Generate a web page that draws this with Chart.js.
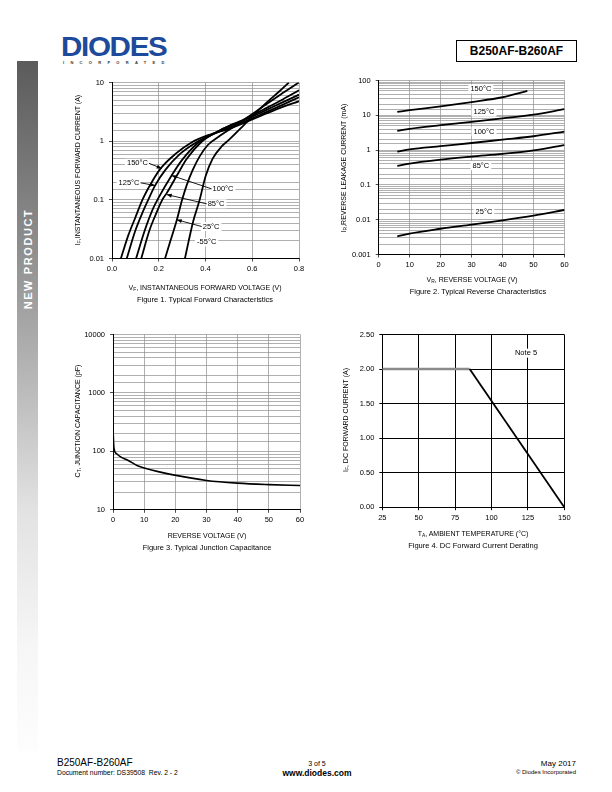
<!DOCTYPE html>
<html>
<head>
<meta charset="utf-8">
<script src="https://cdn.jsdelivr.net/npm/chart.js@4.4.1/dist/chart.umd.min.js"></script>
<style>
  body { margin: 0; width: 612px; height: 792px; position: relative; background: #fff; overflow: hidden;
         font-family: "Liberation Sans", Arial, sans-serif; color: #000; -webkit-font-smoothing: antialiased; }
  .t { position: absolute; white-space: nowrap; transform: translate(-50%, -50%); color: #000; }
  .cap { font-size: 7.5px; will-change: transform; }
  .xt { font-size: 7px; will-change: transform; }
  .yt { font-size: 7px; transform: translate(-50%, -50%) rotate(-90deg); }
  sub { font-size: 70%; vertical-align: -1.5px; line-height: 0; }
  .plot { position: absolute; }
  #side { position: absolute; left: 17px; top: 61px; width: 21px; height: 690px;
          background: linear-gradient(to bottom, #5b5b5b 0%, #8a8a8a 25%, #b5b5b5 45%, #e2e2e2 65%, #f6f6f6 85%, #fdfdfd 100%); }
  #sideTxt { position: absolute; left: 28px; top: 259px; color: #fff; font-weight: bold; font-size: 11px;
             letter-spacing: 1.6px; white-space: nowrap; transform: translate(-50%, -50%) rotate(-90deg); }
  #logo { position: absolute; left: 61px; top: 31px; font-size: 26px; font-weight: bold; letter-spacing: -1.2px;
          color: #1d4a9a; transform-origin: 0 0; transform: scale(1.14, 1.05); }
  #inc { position: absolute; left: 63px; top: 60px; font-size: 4px; font-weight: bold; letter-spacing: 6.3px; color: #333; }
  #part { position: absolute; left: 456px; top: 40px; width: 119px; height: 20px; border: 1px solid #000;
          font-weight: bold; font-size: 12px; line-height: 20px; text-align: center; }
</style>
</head>
<body>
<script>
// ---- Figure 1: forward characteristics, [VF (V), IF (A)]
const fwd150 = [[0.038,0.01],[0.07,0.025],[0.1,0.05],[0.13,0.1],[0.17,0.2],[0.21,0.35],[0.27,0.6],[0.34,0.95],[0.42,1.3],[0.5,1.62],[0.56,2.0],[0.65,2.85],[0.72,3.7],[0.8,4.8]];
const fwd125 = [[0.063,0.01],[0.1,0.03],[0.13,0.06],[0.155,0.1],[0.184,0.175],[0.23,0.33],[0.29,0.6],[0.36,0.95],[0.43,1.3],[0.5,1.7],[0.56,2.1],[0.65,3.0],[0.72,4.0],[0.8,5.6]];
const fwd100 = [[0.103,0.01],[0.14,0.03],[0.175,0.07],[0.2,0.11],[0.255,0.26],[0.3,0.48],[0.37,0.95],[0.44,1.38],[0.5,1.8],[0.56,2.22],[0.65,3.25],[0.72,4.4],[0.8,6.2]];
const fwd85  = [[0.125,0.01],[0.16,0.03],[0.19,0.06],[0.215,0.1],[0.234,0.13],[0.28,0.27],[0.32,0.5],[0.38,0.95],[0.45,1.45],[0.51,1.9],[0.56,2.3],[0.65,3.5],[0.72,4.9],[0.8,7.4]];
const fwd25  = [[0.227,0.01],[0.25,0.02],[0.277,0.045],[0.3,0.1],[0.32,0.18],[0.345,0.32],[0.375,0.55],[0.41,0.86],[0.46,1.22],[0.52,1.75],[0.58,2.55],[0.65,4.0],[0.72,6.2],[0.8,10]];
const fwdM55 = [[0.312,0.01],[0.327,0.019],[0.348,0.044],[0.375,0.1],[0.4,0.25],[0.43,0.5],[0.47,0.82],[0.5,1.05],[0.55,1.65],[0.6,2.65],[0.66,4.5],[0.72,7.3],[0.757,10]];
const fwdYTicks = [0.01, 0.1, 1, 10];
// label text, label position, arrow tip
const fwdNotes = [
  { text: '150°C', x: 0.109, y: 0.42,   tx: 0.2126, ty: 0.342 },
  { text: '125°C', x: 0.073, y: 0.195,  tx: 0.184,  ty: 0.1755 },
  { text: '100°C', x: 0.475, y: 0.154,  tx: 0.255,  ty: 0.26 },
  { text: '85°C',  x: 0.445, y: 0.0855, tx: 0.234,  ty: 0.123 },
  { text: '25°C',  x: 0.424, y: 0.0351, tx: 0.277,  ty: 0.0457 },
  { text: '-55°C', x: 0.405, y: 0.019 }
];

// ---- Figure 2: reverse characteristics, [VR (V), IR (mA)]
const rev150 = [[6,12.5],[10,14],[20,18],[30,24],[40,33],[48,50]];
const rev125 = [[6,3.6],[10,4.1],[20,5.2],[30,6.5],[40,8.2],[50,10.5],[60,15]];
const rev100 = [[6,0.9],[10,1.05],[20,1.3],[30,1.6],[40,2.0],[50,2.5],[60,3.4]];
const rev85  = [[6,0.35],[10,0.41],[20,0.53],[30,0.65],[40,0.78],[50,0.98],[60,1.4]];
const rev25  = [[6,0.0033],[10,0.004],[20,0.0055],[30,0.0072],[40,0.0095],[50,0.013],[60,0.019]];
const revYTicks = [0.001, 0.01, 0.1, 1, 10, 100];
const revNotes = [
  { text: '150°C', x: 33, y: 57 },
  { text: '125°C', x: 34, y: 12.3 },
  { text: '100°C', x: 34, y: 3.4 },
  { text: '85°C',  x: 33, y: 0.36 },
  { text: '25°C',  x: 34, y: 0.0172 }
];

// ---- Figure 3: junction capacitance, [VR (V), CT (pF)]
const capCurve = [[0,243],[0.3,115],[1.2,91],[2.2,82],[4.9,70],[8.1,56],[10.3,51.5],[14.5,45],[19.3,39.6],[30,31.8],[40,28.6],[50,27],[60,26]];
const capYTicks = [10, 100, 1000, 10000];

// ---- Figure 4: derating, [TA (°C), IF (A)]
const derate = [[25,2.0],[85,2.0],[150,0]];
const derateNotes = [{ text: 'Note 5', x: 123.7, y: 2.23 }];

Chart.defaults.color = '#000';
Chart.defaults.font.family = '"Liberation Sans", Arial, sans-serif';
Chart.defaults.font.size = 7.5;

const notePlugin = {
  id: 'notes',
  afterDatasetsDraw(chart, args, opts) {
    const items = opts.items || [];
    const { ctx } = chart;
    const xs = chart.scales.x, ys = chart.scales.y;
    ctx.save();
    ctx.font = '7.5px "Liberation Sans", Arial, sans-serif';
    ctx.textBaseline = 'middle';
    ctx.textAlign = 'center';
    items.forEach(n => {
      const px = xs.getPixelForValue(n.x), py = ys.getPixelForValue(n.y);
      const w = ctx.measureText(n.text).width;
      ctx.fillStyle = '#fff';
      ctx.fillRect(px - w / 2 - 2, py - 4.5, w + 4, 9);
      ctx.fillStyle = '#000';
      ctx.fillText(n.text, px, py);
      if (n.tx !== undefined) {
        const tx = xs.getPixelForValue(n.tx), ty = ys.getPixelForValue(n.ty);
        const sx = tx > px ? px + w / 2 + 1 : px - w / 2 - 1;
        ctx.strokeStyle = '#000';
        ctx.lineWidth = 0.9;
        ctx.beginPath(); ctx.moveTo(sx, py); ctx.lineTo(tx, ty); ctx.stroke();
        const a = Math.atan2(ty - py, tx - sx);
        ctx.beginPath();
        ctx.moveTo(tx, ty);
        ctx.lineTo(tx - 5 * Math.cos(a) + 2 * Math.sin(a), ty - 5 * Math.sin(a) - 2 * Math.cos(a));
        ctx.lineTo(tx - 5 * Math.cos(a) - 2 * Math.sin(a), ty - 5 * Math.sin(a) + 2 * Math.cos(a));
        ctx.closePath();
        ctx.fill();
      }
    });
    ctx.restore();
  }
};
Chart.register(notePlugin);

function isPow10(v) {
  const l = Math.log10(v);
  return Math.abs(l - Math.round(l)) < 1e-6;
}

function addPlot(left, top, w, h) {
  const d = document.createElement('div');
  d.className = 'plot';
  d.style.cssText = `left:${left}px;top:${top}px;width:${w}px;height:${h}px`;
  const c = document.createElement('canvas');
  d.appendChild(c);
  document.body.appendChild(d);
  return c;
}

function curve(pts, width) {
  return {
    data: pts.map(p => ({ x: p[0], y: p[1] })),
    borderColor: '#000', borderWidth: width || 1.8,
    pointRadius: 0, fill: false, cubicInterpolationMode: 'monotone'
  };
}

function logAxis(min, max, labels, yW) {
  return {
    type: 'logarithmic', min: min, max: max,
    afterFit: s => { s.width = yW; },
    border: { color: '#000', width: 1 },
    grid: { color: '#8e8e8e', lineWidth: 0.7, tickLength: 3,
            tickColor: c => (c.tick && isPow10(c.tick.value)) ? '#000' : 'rgba(0,0,0,0)' },
    ticks: { autoSkip: false, padding: 5,
             callback: v => labels.find(t => Math.abs(t - v) / t < 1e-6) !== undefined ? String(v) : '' }
  };
}

function linAxis(min, max, step, dec, xH, gridColor) {
  return {
    type: 'linear', min: min, max: max,
    afterFit: s => { s.height = xH; },
    border: { color: '#000', width: 1 },
    grid: { color: gridColor || '#8e8e8e', lineWidth: gridColor ? 1 : 0.7, tickLength: 3, tickColor: '#000' },
    ticks: { stepSize: step, maxRotation: 0, padding: 3, callback: v => Number(v).toFixed(dec) }
  };
}

function baseOpts(pad, scales, notes) {
  return {
    responsive: true, maintainAspectRatio: false, animation: false,
    layout: { padding: pad },
    plugins: { legend: { display: false }, tooltip: { enabled: false }, notes: { items: notes || [] } },
    scales: scales
  };
}

// Figure 1
new Chart(addPlot(72, 72.5, 240, 203.5), {
  type: 'line',
  data: { datasets: [fwd150, fwd125, fwd100, fwd85, fwd25, fwdM55].map(s => curve(s)) },
  options: baseOpts({ top: 1.5, right: 13, left: 0, bottom: 0 }, {
    x: linAxis(0, 0.8, 0.2, 1, 18),
    y: logAxis(0.01, 10, fwdYTicks, 40)
  }, fwdNotes)
});

// Figure 2
new Chart(addPlot(340, 70.5, 236, 201.5), {
  type: 'line',
  data: { datasets: [rev150, rev125, rev100, rev85, rev25].map(s => curve(s)) },
  options: baseOpts({ top: 1.5, right: 11.5, left: 0, bottom: 0 }, {
    x: linAxis(0, 60, 10, 0, 18),
    y: logAxis(0.001, 100, revYTicks, 38.7)
  }, revNotes)
});

// Figure 3
new Chart(addPlot(72, 324.5, 240, 202.5), {
  type: 'line',
  data: { datasets: [curve(capCurve, 1.6)] },
  options: baseOpts({ top: 1.5, right: 12, left: 0, bottom: 0 }, {
    x: linAxis(0, 60, 10, 0, 17.7),
    y: logAxis(10, 10000, capYTicks, 41)
  })
});

// Figure 4
const derateSet = curve(derate, 1.8);
derateSet.cubicInterpolationMode = 'default';
derateSet.tension = 0;
derateSet.segment = {
  borderColor: c => c.p0DataIndex === 0 ? '#8a8a8a' : '#000',
  borderWidth: c => c.p0DataIndex === 0 ? 2.6 : 1.8
};
const f4y = linAxis(0, 2.5, 0.5, 2, 0, '#000');
f4y.afterFit = s => { s.width = 42.3; };
f4y.ticks.padding = 5;
new Chart(addPlot(340, 324.5, 236, 200.5), {
  type: 'line',
  data: { datasets: [derateSet] },
  options: baseOpts({ top: 1.5, right: 11.7, left: 0, bottom: 0 }, {
    x: linAxis(25, 150, 25, 0, 18.3, '#000'),
    y: f4y
  }, derateNotes)
});
</script>

<div id="side"></div>
<div id="sideTxt">NEW PRODUCT</div>
<div id="logo">DIODES</div>
<div id="inc">INCORPORATED</div>
<div id="part">B250AF-B260AF</div>

<div class="t yt" style="left:77px;top:170px">I<sub>F</sub>,INSTANTANEOUS FORWARD CURRENT (A)</div>
<div class="t xt" style="left:205px;top:287px">V<sub>F</sub>, INSTANTANEOUS FORWARD VOLTAGE (V)</div>
<div class="t cap" style="left:205px;top:299px">Figure 1. Typical Forward Characteristics</div>

<div class="t yt" style="left:343px;top:168px">I<sub>R</sub>,REVERSE LEAKAGE CURRENT (mA)</div>
<div class="t xt" style="left:472px;top:279px">V<sub>R</sub>, REVERSE VOLTAGE (V)</div>
<div class="t cap" style="left:478px;top:291px">Figure 2. Typical Reverse Characteristics</div>

<div class="t yt" style="left:77px;top:421px">C<sub>T</sub>, JUNCTION CAPACITANCE (pF)</div>
<div class="t xt" style="left:207px;top:535px">REVERSE VOLTAGE (V)</div>
<div class="t cap" style="left:207px;top:547px">Figure 3. Typical Junction Capacitance</div>

<div class="t yt" style="left:345px;top:420px">I<sub>F</sub>, DC FORWARD CURRENT (A)</div>
<div class="t xt" style="left:473px;top:533px">T<sub>A</sub>, AMBIENT TEMPERATURE (°C)</div>
<div class="t cap" style="left:473px;top:545px">Figure 4. DC Forward Current Derating</div>

<div style="position:absolute;left:57px;top:757px;font-size:10px">B250AF-B260AF</div>
<div style="position:absolute;left:57px;top:769px;font-size:6.8px">Document number: DS39508&nbsp; Rev. 2 - 2</div>
<div class="t" style="left:317px;top:763px;font-size:7px">3 of 5</div>
<div class="t" style="left:317px;top:773px;font-size:8.5px;font-weight:bold">www.diodes.com</div>
<div style="position:absolute;right:36px;top:759px;font-size:8px;text-align:right">May 2017</div>
<div style="position:absolute;right:36px;top:769px;font-size:6px;text-align:right">© Diodes Incorporated</div>
</body>
</html>
